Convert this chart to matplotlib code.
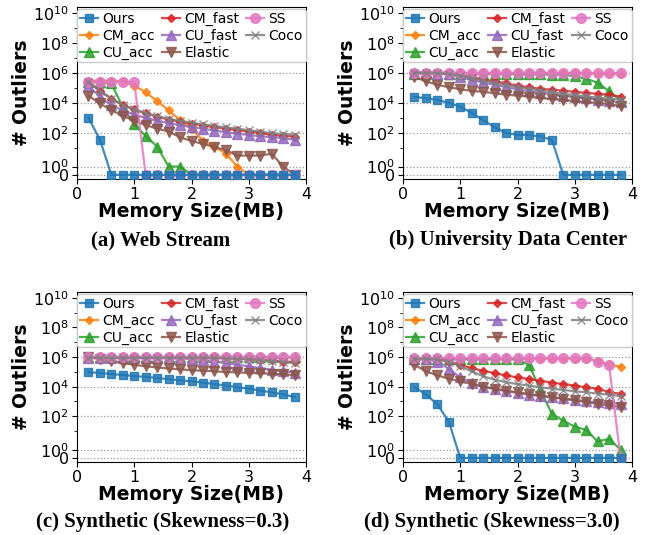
import matplotlib
matplotlib.use("Agg")
import matplotlib.pyplot as plt
from matplotlib.ticker import FixedLocator, NullFormatter

x = [0.2, 0.4, 0.6, 0.8, 1.0, 1.2, 1.4, 1.6, 1.8, 2.0, 2.2, 2.4, 2.6, 2.8, 3.0, 3.2, 3.4, 3.6, 3.8]
methods = ["Ours", "CM_acc", "CU_acc", "CM_fast", "CU_fast", "Elastic", "SS", "Coco"]
colors = ["#1f77b4", "#ff7f0e", "#2ca02c", "#d62728", "#9467bd", "#8c564b", "#e377c2", "#7f7f7f"]
markers = ["s", "D", "^", "D", "^", "v", "o", "x"]

# (a) Web Stream
ours_a = [1000, 35, 0, 0, 0, 0, 0, 0, 0, 0, 0, 0, 0, 0, 0, 0, 0, 0, 0]
cmacc_a = [3e5, 3e5, 3e5, 2.8e5, 1.4e5, 5e4, 1.3e4, 3.2e3, 700, 190, 30, 12, 4, 1, 0, 0, 0, 0, 0]
cuacc_a = [2.5e5, 2.5e5, 2e5, 5e3, 360, 60, 12, 1, 1, 0, 0, 0, 0, 0, 0, 0, 0, 0, 0]
cmfast_a = [2.5e5, 6.3e4, 1.9e4, 7e3, 3.6e3, 1.95e3, 1.2e3, 760, 550, 410, 300, 240, 190, 150, 120, 95, 72, 63, 56]
cufast_a = [1.4e5, 2.5e4, 7e3, 3.2e3, 1.6e3, 1e3, 630, 450, 320, 240, 190, 140, 110, 85, 72, 59, 50, 44, 34]
elastic_a = [3e4, 9e3, 3.2e3, 1.35e3, 630, 320, 190, 120, 50, 28, 18, 11, 7, 3, 3, 3, 4, 1, 0]
ss_a = [2.5e5, 2.5e5, 2.5e5, 2.5e5, 2.5e5, 0, 0, 0, 0, 0, 0, 0, 0, 0, 0, 0, 0, 0, 0]
coco_a = [2.5e5, 6.3e4, 1.9e4, 7e3, 3.6e3, 2e3, 1.3e3, 850, 620, 480, 360, 290, 230, 185, 150, 120, 95, 82, 75]

# (b) University Data Center
ours_b = [2.5e4, 2e4, 1.55e4, 1e4, 5.5e3, 2.1e3, 690, 240, 95, 73, 70, 56, 34, 0, 0, 0, 0, 0, 0]
cmacc_b = [1e6, 1e6, 1e6, 1e6, 1e6, 1e6, 1e6, 1e6, 1e6, 1e6, 1e6, 1e6, 1e6, 1e6, 9.5e5, 9.5e5, 9e5, 8.5e5, 8e5]
cuacc_b = [9e5, 9e5, 9e5, 9e5, 9e5, 9e5, 8.5e5, 8.5e5, 8.5e5, 8e5, 8e5, 8e5, 7.5e5, 7.5e5, 6e5, 4e5, 2.2e5, 6e4, 1.4e4]
cmfast_b = [1.05e6, 1.05e6, 1.05e6, 1e6, 7.5e5, 5e5, 3.6e5, 2.7e5, 2e5, 1.4e5, 1.1e5, 8.5e4, 7.5e4, 6.4e4, 5.4e4, 4.6e4, 4e4, 3.5e4, 2.6e4]
cufast_b = [1e6, 9.5e5, 9e5, 8e5, 5.5e5, 3.3e5, 2.3e5, 1.6e5, 1.1e5, 8e4, 6e4, 4.8e4, 3.8e4, 3e4, 2.5e4, 2e4, 1.6e4, 1.3e4, 1.05e4]
elastic_b = [5.4e5, 2.7e5, 1.6e5, 1.1e5, 8e4, 6.3e4, 5.4e4, 4.4e4, 3.5e4, 3e4, 2.6e4, 2.1e4, 1.8e4, 1.55e4, 1.3e4, 1.1e4, 1e4, 8.3e3, 6e3]
ss_b = [1.05e6] * 19
coco_b = [1e6, 1e6, 9.5e5, 8.5e5, 6.5e5, 4.5e5, 3e5, 2.1e5, 1.5e5, 1.1e5, 8.5e4, 6.5e4, 5e4, 4e4, 3.3e4, 2.7e4, 2.2e4, 1.9e4, 1.6e4]

# (c) Synthetic (Skewness=0.3)
ours_c = [9.8e4, 8.3e4, 7.2e4, 6.2e4, 5.2e4, 4.6e4, 3.9e4, 3.2e4, 2.7e4, 2.3e4, 1.9e4, 1.5e4, 1.2e4, 9.1e3, 7.4e3, 5.4e3, 4.2e3, 3e3, 2e3]
cmacc_c = [1e6, 1e6, 1e6, 1e6, 1e6, 1e6, 1e6, 1e6, 1e6, 1e6, 1e6, 1e6, 1e6, 1e6, 1e6, 1e6, 9.5e5, 9.5e5, 9.5e5]
cuacc_c = [9.5e5] * 19
cmfast_c = [1e6, 1e6, 1e6, 1e6, 1e6, 1e6, 1e6, 1e6, 1e6, 1e6, 1e6, 1e6, 9e5, 8.5e5, 8e5, 6.6e5, 6e5, 5e5, 4.6e5]
cufast_c = [9e5, 9e5, 9e5, 9e5, 9e5, 9e5, 8.5e5, 8.5e5, 8e5, 7.5e5, 6.3e5, 5e5, 4e5, 3e5, 2.4e5, 1.8e5, 1.4e5, 1.1e5, 9e4]
elastic_c = [9.5e5, 7.7e5, 5.7e5, 4e5, 3e5, 2.4e5, 2e5, 1.7e5, 1.5e5, 1.3e5, 1.2e5, 1.1e5, 9.8e4, 9.3e4, 8.4e4, 8e4, 7.6e4, 6.9e4, 6e4]
ss_c = [1.05e6] * 19
coco_c = [9e5, 9e5, 9e5, 9e5, 9e5, 9e5, 9e5, 9e5, 9e5, 9e5, 9e5, 9e5, 8e5, 7.5e5, 7e5, 6e5, 5.3e5, 4.5e5, 4e5]

# (d) Synthetic (Skewness=3.0)
ours_d = [9.5e3, 3e3, 640, 44, 0, 0, 0, 0, 0, 0, 0, 0, 0, 0, 0, 0, 0, 0, 0]
cmacc_d = [8e5, 8e5, 8e5, 8e5, 8e5, 8e5, 8e5, 8e5, 8e5, 8e5, 8e5, 8e5, 8e5, 8e5, 8e5, 8e5, 5.5e5, 3.2e5, 2.2e5]
cuacc_d = [7e5, 7e5, 7e5, 7e5, 7e5, 7e5, 7e5, 7e5, 7e5, 7e5, 3e5, 6e3, 150, 50, 20, 12, 2, 3, 1]
cmfast_d = [7.7e5, 7.7e5, 7.3e5, 5e5, 3e5, 1.8e5, 1.2e5, 8.3e4, 5.8e4, 4.2e4, 3.3e4, 2.5e4, 1.9e4, 1.5e4, 1.2e4, 9e3, 7.3e3, 4.4e3, 3.2e3]
cufast_d = [7.7e5, 7e5, 5e5, 1.6e5, 4.2e4, 1.8e4, 1e4, 7e3, 4.9e3, 3.8e3, 2.9e3, 2.3e3, 2e3, 1.6e3, 1.35e3, 1e3, 900, 790, 700]
elastic_d = [3e5, 1.1e5, 5.8e4, 3.5e4, 2.3e4, 1.5e4, 1e4, 7.4e3, 5.4e3, 4.2e3, 3.2e3, 2.5e3, 1.9e3, 1.5e3, 1.2e3, 900, 700, 550, 430]
ss_d = [8.5e5, 8.5e5, 8.5e5, 8.5e5, 8.5e5, 8.5e5, 8.5e5, 8.5e5, 8.5e5, 8.5e5, 8.5e5, 8.5e5, 8.5e5, 8.5e5, 8.5e5, 8.5e5, 5e5, 3e5, 0]
coco_d = [7.7e5, 7.7e5, 7e5, 5e5, 2.4e5, 1.1e5, 5e4, 3e4, 2e4, 1.5e4, 1.2e4, 9e3, 7.4e3, 6e3, 4.9e3, 4.2e3, 3.4e3, 2.9e3, 2.3e3]

panels = [
    ("(a) Web Stream", [ours_a, cmacc_a, cuacc_a, cmfast_a, cufast_a, elastic_a, ss_a, coco_a]),
    ("(b) University Data Center", [ours_b, cmacc_b, cuacc_b, cmfast_b, cufast_b, elastic_b, ss_b, coco_b]),
    ("(c) Synthetic (Skewness=0.3)", [ours_c, cmacc_c, cuacc_c, cmfast_c, cufast_c, elastic_c, ss_c, coco_c]),
    ("(d) Synthetic (Skewness=3.0)", [ours_d, cmacc_d, cuacc_d, cmfast_d, cufast_d, elastic_d, ss_d, coco_d]),
]

yticks = [0, 1, 1e2, 1e4, 1e6, 1e8, 1e10]
yticklabels = ["0", r"$10^{0}$", r"$10^{2}$", r"$10^{4}$", r"$10^{6}$", r"$10^{8}$", r"$10^{10}$"]
yminor = [10, 1e3, 1e5, 1e7, 1e9]

fig = plt.figure(figsize=(6.52, 5.35), dpi=100)
W, H = 652.0, 535.0
ax_rects = [(77, 7, 229, 172), (403, 7, 229, 172), (77, 292, 229, 170), (403, 292, 229, 170)]
cap_pos = [(161, 240), (508, 240), (163, 522), (492, 522)]

msizes = {"s": 6, "D": 4.5, "^": 6.5, "v": 6.5, "o": 7, "x": 6}

for i, (title, series) in enumerate(panels):
    l, t, w, h = ax_rects[i]
    ax = fig.add_axes([l / W, 1 - (t + h) / H, w / W, h / H])
    ax.set_yscale("symlog", linthresh=2, linscale=1)
    for j, (name, vals) in enumerate(zip(methods, series)):
        ax.plot(x, vals, color=colors[j], marker=markers[j], markersize=msizes[markers[j]],
                linewidth=1.6, alpha=0.85, label=name,
                zorder=5 if name == "Ours" else 3)
    ax.set_xlim(0, 4)
    ax.set_ylim(-0.5, 2.5e10)
    ax.set_xticks([0, 1, 2, 3, 4])
    ax.set_yticks(yticks)
    ax.set_yticklabels(yticklabels)
    ax.yaxis.set_minor_locator(FixedLocator(yminor))
    ax.yaxis.set_minor_formatter(NullFormatter())
    ax.tick_params(axis="both", labelsize=11.5, pad=2.5)
    ax.grid(axis="y", which="major", linestyle=":", color="#999999", linewidth=0.9)
    ax.set_axisbelow(True)
    ax.set_xlabel("Memory Size(MB)", fontsize=13.5, fontweight="bold", labelpad=0)
    ax.set_ylabel("# Outliers", fontsize=13.5, fontweight="bold", labelpad=1)
    leg = ax.legend(loc="upper center", ncol=3, fontsize=10, labelspacing=0.2,
                    handlelength=1.3, handletextpad=0.3, columnspacing=0.5,
                    borderpad=0.2, borderaxespad=0.15, framealpha=1.0)
    leg.set_zorder(10)
    cx, cy = cap_pos[i]
    fig.text(cx / W, 1 - cy / H, title, ha="center", va="center",
             fontsize=15, fontweight="bold", family="Liberation Serif")

fig.savefig("out.png", dpi=100)
